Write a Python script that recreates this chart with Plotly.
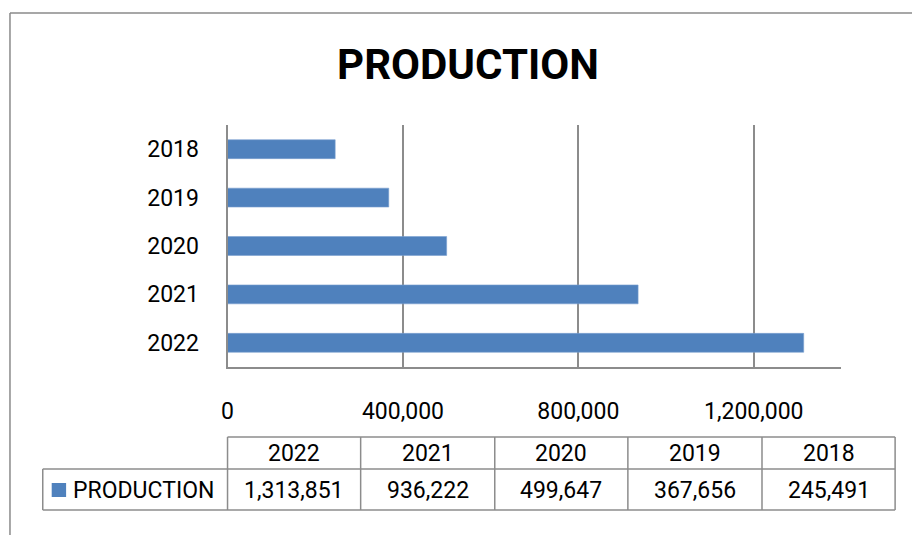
import plotly.graph_objects as go

# ---- data ----
years = ["2022", "2021", "2020", "2019", "2018"]
production = [1313851, 936222, 499647, 367656, 245491]
series_name = "PRODUCTION"
title_text = "PRODUCTION"
x_ticks = [0, 400000, 800000, 1200000]

W, H = 912, 535
BLUE = "#4F81BD"
GRID = "#8c8c8c"
FONT = "Roboto"


def px(x):
    return x / W


def py(y):
    return 1 - y / H


fig = go.Figure()
fig.add_trace(go.Bar(
    y=years, x=production, orientation="h", name=series_name,
    marker=dict(color=BLUE, line=dict(color="#7aa0d0", width=0.6)),
    showlegend=False, hoverinfo="x+y",
))

shapes = []
annotations = []

# outer chart border (continues beyond the picture on right/bottom)
shapes.append(dict(type="line", xref="paper", yref="paper", x0=px(4), x1=px(W + 5),
                   y0=py(13), y1=py(13), line=dict(color="#8a8a8a", width=1.5)))
shapes.append(dict(type="line", xref="paper", yref="paper", x0=px(4), x1=px(4),
                   y0=py(13), y1=py(H + 5), line=dict(color="#8a8a8a", width=1.5)))

# ---- data table below the chart ----
col_edges = [223, 357, 492, 626, 761, 895]
y_top, y_mid, y_bot = 437, 469, 510
row2_left = 37
lc = dict(color=GRID, width=1.5)
shapes.append(dict(type="line", xref="paper", yref="paper", x0=px(col_edges[0]), x1=px(col_edges[-1]),
                   y0=py(y_top), y1=py(y_top), line=lc))
shapes.append(dict(type="line", xref="paper", yref="paper", x0=px(row2_left), x1=px(col_edges[-1]),
                   y0=py(y_mid), y1=py(y_mid), line=lc))
shapes.append(dict(type="line", xref="paper", yref="paper", x0=px(row2_left), x1=px(col_edges[-1]),
                   y0=py(y_bot), y1=py(y_bot), line=lc))
for xe in col_edges:
    shapes.append(dict(type="line", xref="paper", yref="paper", x0=px(xe), x1=px(xe),
                       y0=py(y_top), y1=py(y_bot), line=lc))
shapes.append(dict(type="line", xref="paper", yref="paper", x0=px(row2_left), x1=px(row2_left),
                   y0=py(y_mid), y1=py(y_bot), line=lc))
shapes.append(dict(type="rect", xref="paper", yref="paper", x0=px(46), x1=px(60.5),
                   y0=py(483), y1=py(497), fillcolor=BLUE, line=dict(width=0)))

cell_font = dict(family=FONT, size=23, color="#000000")
for i, (yr, v) in enumerate(zip(years, production)):
    cx = (col_edges[i] + col_edges[i + 1]) / 2
    annotations.append(dict(text=yr, xref="paper", yref="paper", x=px(cx), y=py(453.5),
                            xanchor="center", yanchor="middle", showarrow=False, font=cell_font))
    annotations.append(dict(text=f"{v:,}", xref="paper", yref="paper", x=px(cx), y=py(490),
                            xanchor="center", yanchor="middle", showarrow=False, font=cell_font))
annotations.append(dict(text=series_name, xref="paper", yref="paper", x=px(65), y=py(490),
                        xanchor="left", yanchor="middle", showarrow=False, font=cell_font))

fig.update_layout(
    width=W, height=H,
    margin=dict(l=0, r=0, t=0, b=0),
    paper_bgcolor="white", plot_bgcolor="white",
    title=dict(text="<b>" + title_text + "</b>", xref="paper", yref="paper",
               x=px(465), y=py(64), xanchor="center", yanchor="middle",
               font=dict(family=FONT, size=42, color="#000000")),
    bargap=0.61,
    shapes=shapes,
    annotations=annotations,
    xaxis=dict(
        domain=[px(223), px(841)],
        range=[0, 1400000],
        tickvals=x_ticks,
        tickformat=",",
        showgrid=True, gridcolor=GRID, gridwidth=1.5,
        showline=True, linecolor=GRID, linewidth=2,
        zeroline=False,
        ticks="", ticklabelstandoff=22,
        tickfont=dict(family=FONT, size=23, color="#000000"),
        fixedrange=True,
    ),
    yaxis=dict(
        domain=[py(367), py(125)],
        type="category",
        categoryorder="array", categoryarray=years,
        showline=True, linecolor=GRID, linewidth=2,
        showgrid=False, zeroline=False,
        ticks="", ticklabelstandoff=22,
        tickfont=dict(family=FONT, size=23, color="#000000"),
        fixedrange=True,
    ),
)

fig.write_html(
    "out.html",
    config={"displayModeBar": False},
    post_script="document.body.style.margin='0';document.body.style.overflow='hidden';",
)
